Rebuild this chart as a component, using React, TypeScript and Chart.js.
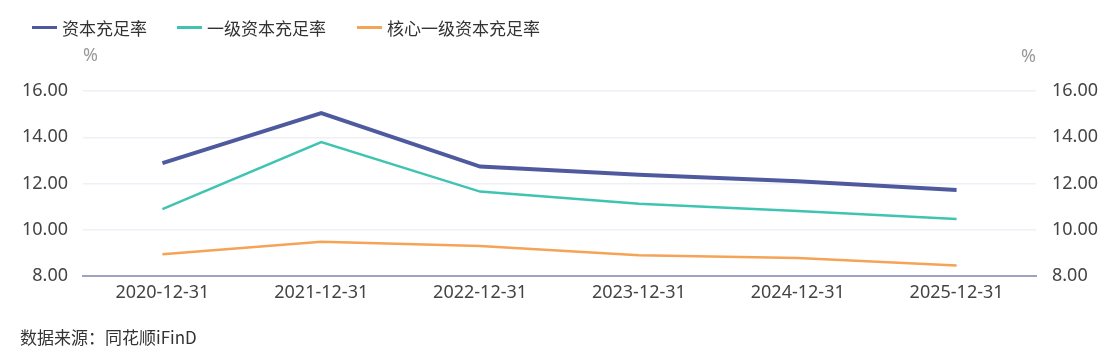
import React, { useEffect, useRef } from "react";
import { Chart, registerables } from "chart.js";

Chart.register(...registerables);

const categories = ["2020-12-31", "2021-12-31", "2022-12-31", "2023-12-31", "2024-12-31", "2025-12-31"];
const capitalRatio = [12.88, 15.04, 12.73, 12.38, 12.1, 11.72];
const tier1Ratio = [10.89, 13.79, 11.65, 11.12, 10.81, 10.47];
const coreTier1Ratio = [8.94, 9.48, 9.3, 8.9, 8.78, 8.45];
const seriesNames = ["资本充足率", "一级资本充足率", "核心一级资本充足率"];
const seriesColors = ["#4f5a9e", "#3fc4b2", "#f5a356"];
const yTicks = [8, 10, 12, 14, 16];

const W = 1114;
const H = 359;
const LEFT = 83;
const RIGHT = 1036;
const TOP = 91;
const BOTTOM = 276;

const tickFont = { family: '"Noto Sans", "Noto Sans CJK SC", sans-serif', size: 18 };
const cjkFont = '"Noto Sans CJK SC", "Noto Sans", sans-serif';

export default function App() {
  const ref = useRef<HTMLCanvasElement | null>(null);

  useEffect(() => {
    document.body.style.margin = "0";
    const canvas = ref.current;
    if (!canvas) return;
    const xAxisHeight = 40;
    const chart = new Chart(canvas, {
      type: "line",
      data: {
        labels: categories,
        datasets: [
          { label: seriesNames[0], data: capitalRatio, borderColor: seriesColors[0], backgroundColor: seriesColors[0], borderWidth: 4, pointRadius: 0, tension: 0, yAxisID: "y" },
          { label: seriesNames[1], data: tier1Ratio, borderColor: seriesColors[1], backgroundColor: seriesColors[1], borderWidth: 2.5, pointRadius: 0, tension: 0, yAxisID: "y" },
          { label: seriesNames[2], data: coreTier1Ratio, borderColor: seriesColors[2], backgroundColor: seriesColors[2], borderWidth: 2.5, pointRadius: 0, tension: 0, yAxisID: "y" },
        ],
      },
      options: {
        responsive: false,
        animation: false,
        layout: { padding: { top: TOP, bottom: H - BOTTOM - xAxisHeight, left: 0, right: 0 } },
        plugins: { legend: { display: false }, tooltip: { enabled: false } },
        scales: {
          x: {
            offset: true,
            grid: { display: false, drawTicks: false },
            border: { display: true, color: "#9ea3c2", width: 2 },
            ticks: { color: "#444", font: tickFont, padding: 6, maxRotation: 0 },
            afterFit: (s: any) => { s.height = xAxisHeight; },
          },
          y: {
            position: "left",
            min: yTicks[0],
            max: yTicks[yTicks.length - 1],
            afterBuildTicks: (s: any) => { s.ticks = yTicks.map((v) => ({ value: v })); },
            grid: { color: "#eef0f6", lineWidth: 1.5, drawTicks: false },
            border: { display: false },
            ticks: { color: "#444", font: tickFont, padding: 15, callback: (v: any) => Number(v).toFixed(2) },
            afterFit: (s: any) => { s.width = LEFT; },
          },
          y1: {
            position: "right",
            min: yTicks[0],
            max: yTicks[yTicks.length - 1],
            afterBuildTicks: (s: any) => { s.ticks = yTicks.map((v) => ({ value: v })); },
            grid: { display: false, drawTicks: false },
            border: { display: false },
            ticks: { color: "#444", font: tickFont, padding: 16, callback: (v: any) => Number(v).toFixed(2) },
            afterFit: (s: any) => { s.width = W - RIGHT; },
          },
        },
      },
    });
    return () => chart.destroy();
  }, []);

  const legendX = [32, 177, 357];
  return (
    <div style={{ position: "fixed", left: 0, top: 0, width: W, height: H, background: "#fff" }}>
      <canvas ref={ref} width={W} height={H} style={{ position: "absolute", left: 0, top: 0, width: W, height: H }} />
      {seriesNames.map((n, i) => (
        <div key={n} style={{ position: "absolute", left: legendX[i], top: 15, height: 24, display: "flex", alignItems: "center", fontFamily: cjkFont, fontSize: 17, color: "#333", whiteSpace: "nowrap" }}>
          <span style={{ display: "inline-block", width: 25, height: 3, background: seriesColors[i], marginRight: 5 }} />
          <span>{n}</span>
        </div>
      ))}
      <div style={{ position: "absolute", left: 83, top: 41, fontFamily: tickFont.family, fontSize: 18, lineHeight: "26px", color: "#999" }}>%</div>
      <div style={{ position: "absolute", left: 1021, top: 42, fontFamily: tickFont.family, fontSize: 18, lineHeight: "26px", color: "#999" }}>%</div>
      <div style={{ position: "absolute", left: 20, top: 324, fontFamily: cjkFont, fontSize: 17, lineHeight: "26px", color: "#333", whiteSpace: "nowrap" }}>数据来源：同花顺iFinD</div>
    </div>
  );
}
